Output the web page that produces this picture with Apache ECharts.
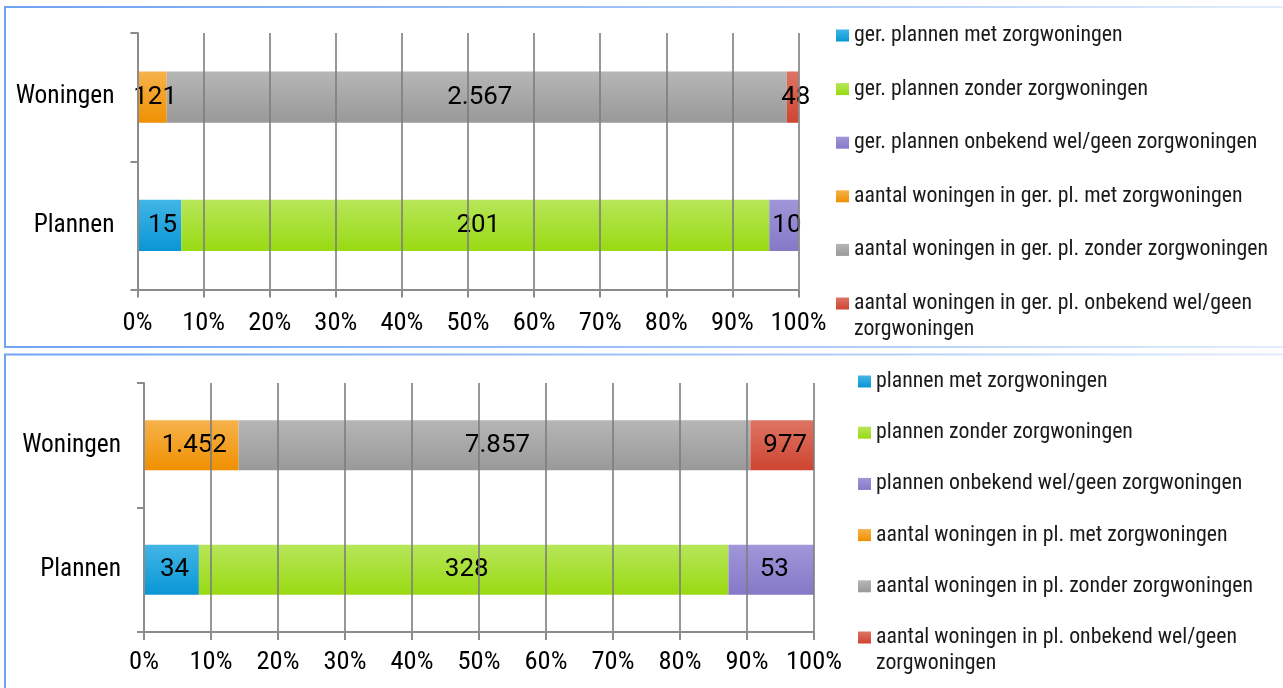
<!DOCTYPE html>
<html><head><meta charset="utf-8">
<script src="https://cdn.jsdelivr.net/npm/echarts@6/dist/echarts.min.js"></script>
<style>html,body{margin:0;padding:0;background:#fff;overflow:hidden}#c{width:1283px;height:688px}</style>
</head><body><div id="c"></div>
<script>
// ---- data ----
const categories = ['Plannen', 'Woningen'];
const xTickLabels = ['0%','10%','20%','30%','40%','50%','60%','70%','80%','90%','100%'];
const topSeriesNames = [
  'ger. plannen met zorgwoningen',
  'ger. plannen zonder zorgwoningen',
  'ger. plannen onbekend wel/geen zorgwoningen',
  'aantal woningen in ger. pl. met zorgwoningen',
  'aantal woningen in ger. pl. zonder zorgwoningen',
  'aantal woningen in ger. pl. onbekend wel/geen zorgwoningen'
];
const topPlannen = [15, 201, 10];
const topWoningen = [121, 2567, 48];
const bottomSeriesNames = [
  'plannen met zorgwoningen',
  'plannen zonder zorgwoningen',
  'plannen onbekend wel/geen zorgwoningen',
  'aantal woningen in pl. met zorgwoningen',
  'aantal woningen in pl. zonder zorgwoningen',
  'aantal woningen in pl. onbekend wel/geen zorgwoningen'
];
const bottomPlannen = [34, 328, 53];
const bottomWoningen = [1452, 7857, 977];

// ---- styling ----
function grad(a, b) { return {type:'linear', x:0, y:0, x2:0, y2:1, colorStops:[{offset:0,color:a},{offset:1,color:b}]}; }
const colors = [
  grad('#42b5e6', '#0996d5'),
  grad('#b7e65a', '#99da12'),
  grad('#a096d8', '#8579c8'),
  grad('#f6b24c', '#f09000'),
  grad('#b6b6b6', '#999999'),
  grad('#de7464', '#cd4530')
];

function hasFont(f) {
  const c = document.createElement('canvas').getContext('2d');
  const s = 'abcdefghij ger. plannen WMwm 0123%';
  for (const base of ['monospace', 'serif']) {
    c.font = '40px ' + base; const w0 = c.measureText(s).width;
    c.font = '40px "' + f + '", ' + base;
    if (Math.abs(c.measureText(s).width - w0) > 0.5) return true;
  }
  return false;
}
const condFam = ['Liberation Sans Narrow', 'Roboto Condensed', 'Noto Sans Condensed', 'Open Sans Condensed', 'DejaVu Sans Condensed', 'Roboto'].find(hasFont) || 'Roboto';
function fit(text, fam, target) {
  const c = document.createElement('canvas').getContext('2d');
  c.font = '100px "' + fam + '"';
  return Math.round(100 * target / c.measureText(text).width * 10) / 10;
}
const legTopSize = fit('aantal woningen in ger. pl. zonder zorgwoningen', condFam, 414);
const legBotSize = fit('aantal woningen in pl. zonder zorgwoningen', condFam, 377);
const axisSize = fit('100%', condFam, 51) * 1.1;
const catSize = fit('Woningen', condFam, 99);
const valSize = fit('2.567', 'Roboto', 65);

function fmt(n) { return String(n).replace(/\B(?=(\d{3})+(?!\d))/g, '.'); }
function pct(arr) { const t = arr.reduce((a, b) => a + b, 0); return arr.map(v => v / t * 100); }

function buildSeries(names, plannen, woningen, idx) {
  const pp = pct(plannen), pw = pct(woningen);
  return names.map((n, i) => {
    const j = i % 3, isW = i >= 3;
    const data = isW ? ['-', {value: pw[j], raw: woningen[j]}] : [{value: pp[j], raw: plannen[j]}, '-'];
    return {
      name: n, type: 'bar', stack: 's' + idx, xAxisIndex: idx, yAxisIndex: idx,
      barWidth: '40%', data,
      itemStyle: {color: colors[i]},
      label: {show: true, position: 'inside', offset: [3, 0], formatter: p => fmt(p.data.raw),
        color: '#000', fontFamily: 'Roboto', fontSize: valSize}
    };
  });
}

const gridLine = 'rgba(125,125,125,0.8)';
function xAxis(idx, margin) {
  return {
    type: 'value', gridIndex: idx, min: 0, max: 100, interval: 10, z: 3,
    axisLine: {show: true, lineStyle: {color: '#8c8c8c', width: 2}},
    axisTick: {show: true, length: 8, lineStyle: {color: '#8c8c8c', width: 2}},
    splitLine: {show: true, lineStyle: {color: gridLine, width: 2}},
    axisLabel: {margin, color: '#000', fontFamily: condFam, fontSize: axisSize, formatter: v => xTickLabels[Math.round(v / 10)]}
  };
}
function yAxis(idx) {
  return {
    type: 'category', gridIndex: idx, data: categories, z: 3,
    axisLine: {show: true, lineStyle: {color: '#8c8c8c', width: 2}},
    axisTick: {show: true, length: 7, lineStyle: {color: '#8c8c8c', width: 2}},
    axisLabel: {margin: 23, color: '#000', fontFamily: condFam, fontSize: catSize}
  };
}
// main legend: first five entries, one line each
function legendMain(names, left, iconTop, step, size, lh) {
  return {
    orient: 'vertical', left, top: iconTop - (lh / 2 - 6), padding: 0, height: 400,
    itemWidth: 13, itemHeight: 12, itemGap: step - lh,
    icon: 'rect',
    textStyle: {color: '#1a1a1a', fontFamily: condFam, fontSize: size, lineHeight: lh},
    data: names.slice(0, 5)
  };
}
// last entry wraps onto a second line; a leading empty line keeps the first line level with the icon
function legendWrap(names, left, iconTop, size, lh) {
  return {
    orient: 'vertical', left, top: iconTop + 6 - 1.5 * lh, padding: 0,
    itemWidth: 13, itemHeight: 12,
    icon: 'rect',
    formatter: name => { const k = name.lastIndexOf(' '); return '\n' + name.slice(0, k) + '\n' + name.slice(k + 1); },
    textStyle: {color: '#1a1a1a', fontFamily: condFam, fontSize: size, lineHeight: lh},
    data: [names[5]]
  };
}

const chart = echarts.init(document.getElementById('c'), null, {renderer: 'canvas'});
const border = {type: 'linear', x: 0, y: 0, x2: 1, y2: 0, global: false,
  colorStops: [{offset: 0, color: '#6fa3f4'}, {offset: 0.6, color: '#a9c9f8'}, {offset: 1, color: '#e6effc'}]};
chart.setOption({
  animation: false,
  grid: [
    {left: 137.5, top: 33, width: 661, height: 256.5, containLabel: false, outerBoundsMode: 'none'},
    {left: 144, top: 383, width: 670, height: 249, containLabel: false, outerBoundsMode: 'none'}
  ],
  xAxis: [xAxis(0, 20), xAxis(1, 17)],
  yAxis: [yAxis(0), yAxis(1)],
  legend: [
    legendMain(topSeriesNames, 836, 29.5, 53.6, legTopSize, 26),
    legendWrap(topSeriesNames, 836, 297.5, legTopSize, 26.5),
    legendMain(bottomSeriesNames, 858, 375.5, 51.2, legBotSize, 26),
    legendWrap(bottomSeriesNames, 858, 631.5, legBotSize, 26)
  ],
  graphic: [
    {type: 'rect', silent: true, z: -10, shape: {x: 5, y: 7, width: 1300, height: 340},
      style: {fill: 'none', lineWidth: 2, stroke: border}},
    {type: 'rect', silent: true, z: -10, shape: {x: 5, y: 354.5, width: 1300, height: 400},
      style: {fill: 'none', lineWidth: 2, stroke: border}}
  ],
  series: buildSeries(topSeriesNames, topPlannen, topWoningen, 0)
    .concat(buildSeries(bottomSeriesNames, bottomPlannen, bottomWoningen, 1))
});
</script>
</body></html>
